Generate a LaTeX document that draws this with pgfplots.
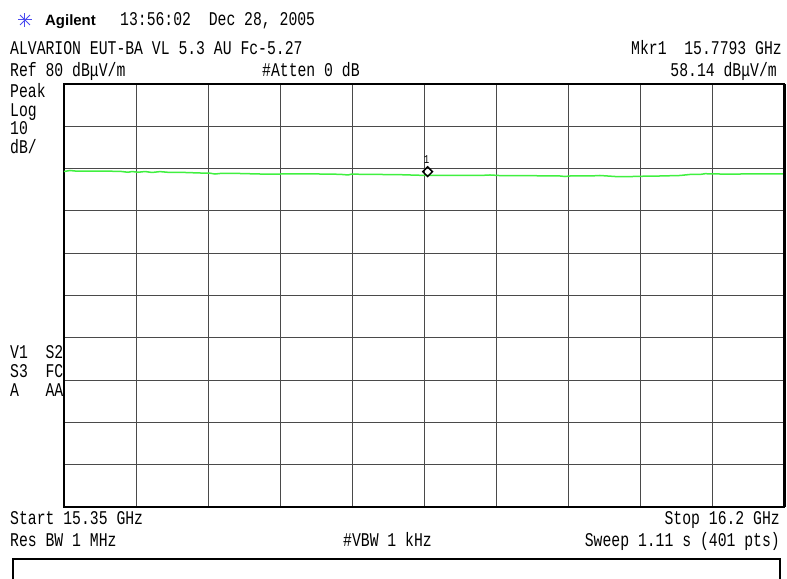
\documentclass[border=0pt]{standalone}
\usepackage{fontspec}
\setmainfont{Liberation Mono}[FakeStretch=0.76]
\newfontfamily\agfont{Liberation Sans}
\usepackage{pgfplots}
\usepackage{pgfplotstable}
\pgfplotsset{compat=1.18}
\definecolor{trace}{HTML}{40F040}
\definecolor{gridc}{HTML}{4A4A4A}
\definecolor{agblue}{HTML}{4A4AF0}

% frequency (GHz), level (dBuV/m)
\pgfplotstableread{
f v
15.3500 59.31
15.3571 59.55
15.3630 59.43
15.3925 59.39
15.4161 59.36
15.4256 59.13
15.4303 59.31
15.4374 59.13
15.4456 59.31
15.4539 59.08
15.4633 59.29
15.4751 59.08
15.4929 59.08
15.5106 58.96
15.5224 58.91
15.5283 58.72
15.5365 58.89
15.5578 58.84
15.5814 58.72
15.6050 58.72
15.6286 58.77
15.6522 58.72
15.6758 58.65
15.6853 58.49
15.6900 58.72
15.6994 58.65
15.7231 58.61
15.7467 58.56
15.7703 58.42
15.7939 58.37
15.8175 58.37
15.8411 58.37
15.8529 58.49
15.8647 58.35
15.8883 58.35
15.9119 58.30
15.9356 58.25
15.9415 58.13
15.9474 58.25
15.9710 58.25
15.9828 58.37
16.0005 58.13
16.0182 58.11
16.0300 58.18
16.0536 58.25
16.0772 58.37
16.0890 58.61
16.1008 58.61
16.1067 58.79
16.1244 58.72
16.1481 58.72
16.1717 58.77
16.2000 58.72
}\tracedata

\newcommand{\txt}{\fontsize{19.5}{21}\selectfont}

\begin{document}
\begin{tikzpicture}
\path[use as bounding box, fill=white] (-64bp,-72bp) rectangle (723bp,507bp);
\begin{axis}[
  scale only axis, width=720bp, height=423bp,
  at={(0,0)}, anchor=south west,
  xmin=15.35, xmax=16.2, ymin=-20, ymax=80,
  xtick={15.35,15.435,15.52,15.605,15.69,15.775,15.86,15.945,16.03,16.115,16.2},
  ytick={-20,-10,...,80},
  xticklabels={}, yticklabels={},
  major tick length=0pt,
  grid=major, grid style={gridc, line width=0.9bp},
  axis line style={black, line width=2bp},
  clip=false]
\addplot[trace, line width=1.5bp] table[x=f, y=v] {\tracedata};
\addplot[black, only marks, mark=square, mark size=3.4bp,
  mark options={rotate=45, line width=1.5bp}] coordinates {(15.7793,59.27)};
\end{axis}
\draw[black, line width=3bp] (720bp,0) -- (720bp,423bp);

\begin{scope}[x=1bp, y=-1bp, shift={(-64bp,507bp)}]
  % Agilent star
  \foreach \a in {0,45,...,315}
    \draw[agblue, line width=1bp] (25,20) -- ++(\a:7);
  \node[anchor=base west, inner sep=0, font=\agfont\bfseries\fontsize{15}{17}\selectfont] at (45,26) {Agilent};
  \node[anchor=base west, inner sep=0, font=\txt] at (120,26) {13:56:02\ \ Dec 28, 2005};
  \node[anchor=base west, inner sep=0, font=\txt] at (10,55) {ALVARION EUT-BA VL 5.3 AU Fc-5.27};
  \node[anchor=base west, inner sep=0, font=\txt] at (10,77) {Ref 80 dBμV/m};
  \node[anchor=base west, inner sep=0, font=\txt] at (262,77) {\#Atten 0 dB};
  \node[anchor=base east, inner sep=0, font=\txt] at (782,55) {Mkr1\ \ 15.7793 GHz};
  \node[anchor=base east, inner sep=0, font=\txt] at (777,77) {58.14 dBμV/m};
  \node[anchor=base west, inner sep=0, font=\txt] at (10,98) {Peak};
  \node[anchor=base west, inner sep=0, font=\txt] at (10,117) {Log};
  \node[anchor=base west, inner sep=0, font=\txt] at (10,135) {10};
  \node[anchor=base west, inner sep=0, font=\txt] at (10,154) {dB/};
  \node[anchor=base west, inner sep=0, font=\txt] at (10,359) {V1\ \ S2};
  \node[anchor=base west, inner sep=0, font=\txt] at (10,378) {S3\ \ FC};
  \node[anchor=base west, inner sep=0, font=\txt] at (10,397) {A\ \ \ AA};
  \node[anchor=base, inner sep=0, font=\fontsize{12}{13}\selectfont] at (426.5,164) {1};
  \node[anchor=base west, inner sep=0, font=\txt] at (10,525) {Start 15.35 GHz};
  \node[anchor=base east, inner sep=0, font=\txt] at (780,525) {Stop 16.2 GHz};
  \node[anchor=base west, inner sep=0, font=\txt] at (10,547) {Res BW 1 MHz};
  \node[anchor=base west, inner sep=0, font=\txt] at (343,547) {\#VBW 1 kHz};
  \node[anchor=base east, inner sep=0, font=\txt] at (780,547) {Sweep 1.11 s (401 pts)};
  \draw[black, line width=2bp] (13,580) -- (13,559) -- (780,559) -- (780,580);
\end{scope}
\end{tikzpicture}
\end{document}
